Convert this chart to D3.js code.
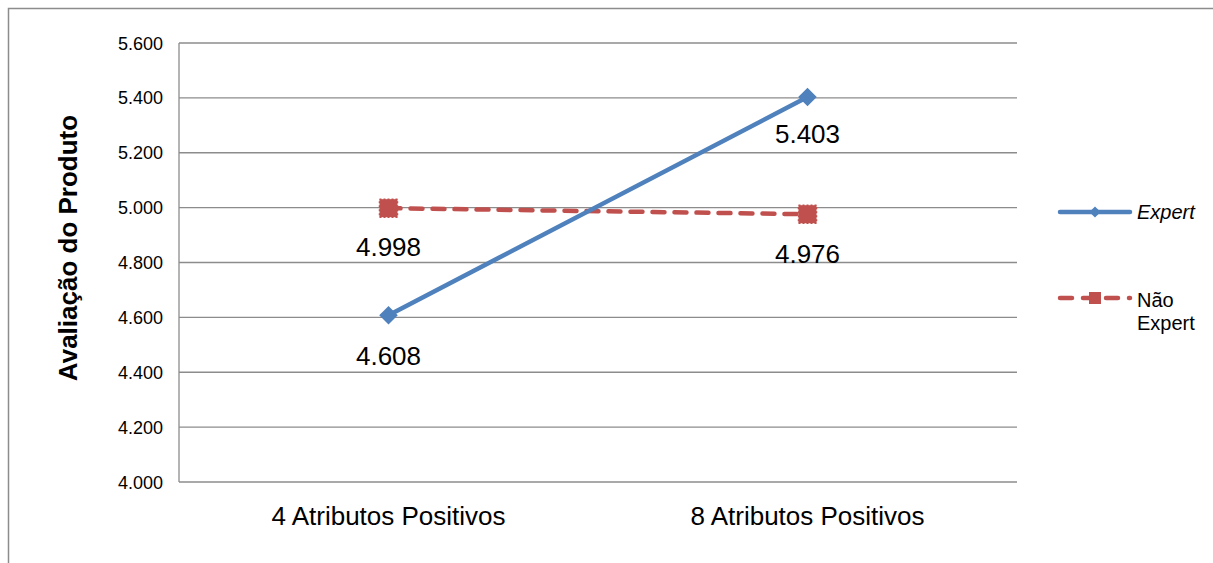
<!DOCTYPE html>
<html>
<head>
<meta charset="utf-8">
<script src="https://cdn.jsdelivr.net/npm/d3@7"></script>
<style>
  body { margin: 0; background: #fff; }
  svg { font-family: "Liberation Sans", Arial, sans-serif; }
</style>
</head>
<body>
<svg width="1213" height="563"></svg>
<script>
// dados
var categories = ['4 Atributos Positivos', '8 Atributos Positivos']
var expert = [4.608, 5.403]
var naoExpert = [4.998, 4.976]
var yTicks = [4.0, 4.2, 4.4, 4.6, 4.8, 5.0, 5.2, 5.4, 5.6]

var svg = d3.select('svg')

// moldura externa
svg.append('rect')
    .attr('x', 8.5).attr('y', 8.5)
    .attr('width', 1230).attr('height', 600)
    .attr('fill', 'none')
    .attr('stroke', '#8c8c8c')
    .attr('stroke-width', 1.5)

var mLeft = 179, mRight = 1017, mTop = 43, mBottom = 482

var x = d3.scalePoint().domain(categories).range([mLeft, mRight]).padding(0.5)
var y = d3.scaleLinear().domain([4.0, 5.6]).range([mBottom, mTop])

var fmt = function (v) { return d3.format('.3f')(v) }

// linhas de grade
svg.selectAll('line.grid').data(yTicks).enter().append('line')
    .attr('class', 'grid')
    .attr('x1', mLeft).attr('x2', mRight)
    .attr('y1', d => y(d)).attr('y2', d => y(d))
    .attr('stroke', '#8c8c8c')
    .attr('stroke-width', 1.3)

// eixo y
svg.append('line')
    .attr('x1', mLeft).attr('x2', mLeft)
    .attr('y1', mTop).attr('y2', mBottom)
    .attr('stroke', '#8c8c8c')
    .attr('stroke-width', 1.3)

svg.selectAll('text.ytick').data(yTicks).enter().append('text')
    .attr('class', 'ytick')
    .attr('x', mLeft - 16)
    .attr('y', d => y(d) + 6.5)
    .attr('text-anchor', 'end')
    .attr('font-size', 18)
    .attr('fill', '#000')
    .text(fmt)

svg.selectAll('text.xtick').data(categories).enter().append('text')
    .attr('class', 'xtick')
    .attr('x', d => x(d))
    .attr('y', mBottom + 43)
    .attr('text-anchor', 'middle')
    .attr('font-size', 26)
    .text(d => d)

svg.append('text')
    .attr('transform', 'translate(77,248) rotate(-90)')
    .attr('text-anchor', 'middle')
    .attr('font-size', 26)
    .attr('font-weight', 'bold')
    .text('Avaliação do Produto')

var line = d3.line()
    .x((d, i) => x(categories[i]))
    .y(d => y(d))

// Não Expert
var red = '#c0504d'
svg.append('path')
    .attr('d', line(naoExpert))
    .attr('fill', 'none')
    .attr('stroke', red)
    .attr('stroke-width', 4.5)
    .attr('stroke-dasharray', '12,10')
    .attr('stroke-linecap', 'round')

svg.selectAll('rect.sq').data(naoExpert).enter().append('rect')
    .attr('class', 'sq')
    .attr('x', (d, i) => x(categories[i]) - 9)
    .attr('y', d => y(d) - 9)
    .attr('width', 18).attr('height', 18)
    .attr('fill', red)
    .attr('stroke', red)
    .attr('stroke-width', 1.5)
    .attr('stroke-dasharray', '2,2')

// Expert
var blue = '#4f81bd'
svg.append('path')
    .attr('d', line(expert))
    .attr('fill', 'none')
    .attr('stroke', blue)
    .attr('stroke-width', 4.5)
    .attr('stroke-linecap', 'round')

var diamond = d3.symbol().type(d3.symbolDiamond2).size(220)
svg.selectAll('path.dm').data(expert).enter().append('path')
    .attr('class', 'dm')
    .attr('d', diamond)
    .attr('transform', (d, i) => 'translate(' + x(categories[i]) + ',' + y(d) + ')')
    .attr('fill', blue)

// rótulos de dados
var labelOffsets = { expert: [50, 46], nao: [48, 49] }
svg.selectAll('text.le').data(expert).enter().append('text')
    .attr('class', 'le')
    .attr('x', (d, i) => x(categories[i]))
    .attr('y', (d, i) => y(d) + labelOffsets.expert[i])
    .attr('text-anchor', 'middle')
    .attr('font-size', 26)
    .text(fmt)

svg.selectAll('text.ln').data(naoExpert).enter().append('text')
    .attr('class', 'ln')
    .attr('x', (d, i) => x(categories[i]))
    .attr('y', (d, i) => y(d) + labelOffsets.nao[i])
    .attr('text-anchor', 'middle')
    .attr('font-size', 26)
    .text(fmt)

// legenda
var lg = svg.append('g').attr('transform', 'translate(1060,0)')
lg.append('line')
    .attr('x1', 0).attr('x2', 70).attr('y1', 212).attr('y2', 212)
    .attr('stroke', blue).attr('stroke-width', 4.5).attr('stroke-linecap', 'round')
lg.append('path')
    .attr('d', d3.symbol().type(d3.symbolDiamond2).size(80))
    .attr('transform', 'translate(35,212)')
    .attr('fill', blue)
lg.append('text')
    .attr('x', 77).attr('y', 219)
    .attr('font-size', 20)
    .attr('font-style', 'italic')
    .text('Expert')

lg.append('line')
    .attr('x1', 0).attr('x2', 70).attr('y1', 298).attr('y2', 298)
    .attr('stroke', red).attr('stroke-width', 4.5)
    .attr('stroke-dasharray', '12,11').attr('stroke-linecap', 'round')
lg.append('rect')
    .attr('x', 29).attr('y', 292).attr('width', 12).attr('height', 12)
    .attr('fill', red)
lg.append('text')
    .attr('x', 77).attr('y', 307)
    .attr('font-size', 20)
    .text('Não')
lg.append('text')
    .attr('x', 77).attr('y', 330)
    .attr('font-size', 20)
    .text('Expert')
</script>
</body>
</html>
